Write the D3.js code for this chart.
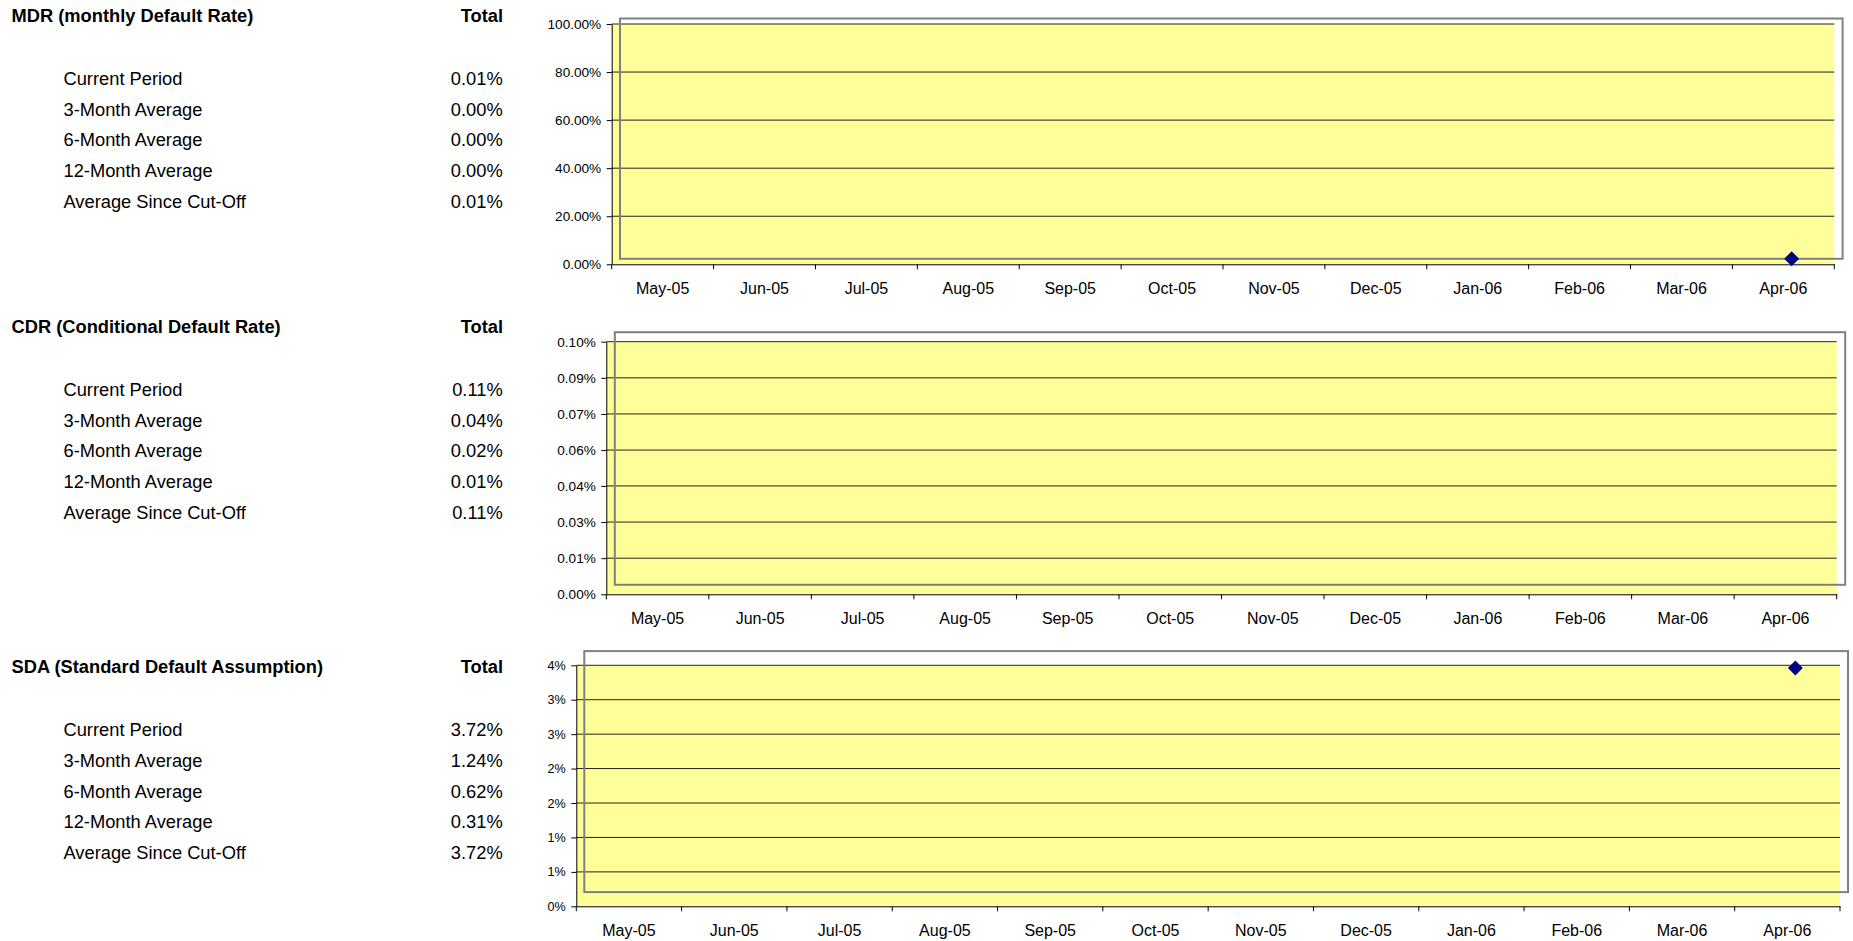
<!DOCTYPE html>
<html>
<head>
<meta charset="utf-8">
<script src="https://cdn.jsdelivr.net/npm/d3@7"></script>
<style>
  body { margin: 0; background: #fff; }
  svg { display: block; font-family: Arial, "Liberation Sans", sans-serif; }
  .block-title { font-weight: bold; font-size: 18.3px; }
  .stat-text { font-size: 18.3px; }
  .axis path, .axis line { stroke: #000; }
  .axis text { fill: #000; font-family: Arial, "Liberation Sans", sans-serif; }
</style>
</head>
<body>
<svg id="report" width="1853" height="941"></svg>
<script>
// months on the x axis
const months = ["May-05","Jun-05","Jul-05","Aug-05","Sep-05","Oct-05",
                "Nov-05","Dec-05","Jan-06","Feb-06","Mar-06","Apr-06"];

// row labels of the left tables
const statLabels = ["Current Period","3-Month Average","6-Month Average","12-Month Average","Average Since Cut-Off"];

// table values (shown with 2 decimals)
const mdrStats = [0.0001, 0.0000, 0.0000, 0.0000, 0.0001];
const cdrStats = [0.0011, 0.0004, 0.0002, 0.0001, 0.0011];
const sdaStats = [0.0372, 0.0124, 0.0062, 0.0031, 0.0372];

// chart series, only the last month has a value
const mdrSeries = [null,null,null,null,null,null,null,null,null,null,null,0.0001];
const cdrSeries = [null,null,null,null,null,null,null,null,null,null,null,0.0011];
const sdaSeries = [null,null,null,null,null,null,null,null,null,null,null,0.0372];

// y tick values
const mdrTicks = [0, 0.2, 0.4, 0.6, 0.8, 1.0];
const cdrTicks = [0, 0.000143, 0.000286, 0.000429, 0.000571, 0.000714, 0.000857, 0.001];
const sdaTicks = [0, 0.00571, 0.01143, 0.01714, 0.02286, 0.02857, 0.03429, 0.04];

const svg = d3.select("#report");
const pct2 = d3.format(".2%");

const blocks = [
  {title: "MDR (monthly Default Rate)", stats: mdrStats, series: mdrSeries, ticks: mdrTicks,
   tickFmt: d3.format(".2%"), tickFont: 13.6, top: 0,
   plot: {left: 611.7, right: 1834.3, top: 24, bottom: 264.3}, shift: {x: 8.3, y: -5.5}},
  {title: "CDR (Conditional Default Rate)", stats: cdrStats, series: cdrSeries, ticks: cdrTicks,
   tickFmt: d3.format(".2%"), tickFont: 13.6, top: 311,
   plot: {left: 606.3, right: 1836.7, top: 341.7, bottom: 594.3}, shift: {x: 8.5, y: -9.5}},
  {title: "SDA (Standard Default Assumption)", stats: sdaStats, series: sdaSeries, ticks: sdaTicks,
   tickFmt: d3.format(".0%"), tickFont: 12.6, top: 651.5,
   plot: {left: 576.3, right: 1840, top: 665.3, bottom: 906.3}, shift: {x: 8, y: -14.2}}
];

blocks.forEach(b => {
  // left table
  const table = svg.append("g").attr("transform", `translate(0,${b.top})`);
  table.append("text")
      .attr("class", "block-title")
      .attr("x", 11.5).attr("y", 15.3)
      .attr("dominant-baseline", "central")
      .text(b.title);
  table.append("text")
      .attr("class", "block-title")
      .attr("x", 503).attr("y", 15.3)
      .attr("text-anchor", "end")
      .attr("dominant-baseline", "central")
      .text("Total");

  b.stats.forEach((v, i) => {
    const yy = 78.3 + i * 30.7;
    table.append("text")
        .attr("class", "stat-text")
        .attr("x", 63.5).attr("y", yy)
        .attr("dominant-baseline", "central")
        .text(statLabels[i]);
    table.append("text")
        .attr("class", "stat-text")
        .attr("x", 502.7).attr("y", yy)
        .attr("text-anchor", "end")
        .attr("dominant-baseline", "central")
        .text(pct2(v));
  });

  // chart
  const p = b.plot;
  const yMax = b.ticks[b.ticks.length - 1];
  const xScale = d3.scaleBand().domain(months).range([p.left, p.right]).padding(0);
  const yScale = d3.scaleLinear().domain([0, yMax]).range([p.bottom, p.top]);

  const chart = svg.append("g");

  chart.append("rect")
      .attr("x", p.left).attr("y", p.top)
      .attr("width", p.right - p.left).attr("height", p.bottom - p.top)
      .attr("fill", "#FFFF99");

  // gridlines
  chart.append("g")
      .selectAll("line")
      .data(b.ticks.slice(1))
      .join("line")
      .attr("x1", p.left).attr("x2", p.right)
      .attr("y1", d => yScale(d)).attr("y2", d => yScale(d))
      .attr("stroke", "#222")
      .attr("stroke-width", 1);

  // y axis
  const leftAxis = d3.axisLeft(yScale)
      .tickValues(b.ticks)
      .tickFormat(b.tickFmt)
      .tickSize(5)
      .tickPadding(5.5)
      .tickSizeOuter(0);
  chart.append("g")
      .attr("class", "axis")
      .attr("transform", `translate(${p.left},0)`)
      .call(leftAxis)
      .call(g => g.selectAll("text").style("font-size", b.tickFont + "px"));

  // x axis: labels centred in each month, ticks on the month borders
  const bottomAxis = d3.axisBottom(xScale).tickSize(0).tickPadding(18.8).tickSizeOuter(0);
  chart.append("g")
      .attr("class", "axis")
      .attr("transform", `translate(0,${p.bottom})`)
      .call(bottomAxis)
      .call(g => g.selectAll("text").style("font-size", "16px"));

  const borders = months.map(m => xScale(m)).concat([p.right]);
  chart.append("g")
      .selectAll("line")
      .data(borders)
      .join("line")
      .attr("x1", d => d).attr("x2", d => d)
      .attr("y1", p.bottom).attr("y2", p.bottom + 5)
      .attr("stroke", "#000");

  // shifted plot frame, the series sits inside it
  const s = b.shift;
  chart.append("rect")
      .attr("x", p.left + s.x).attr("y", p.top + s.y)
      .attr("width", p.right - p.left).attr("height", p.bottom - p.top)
      .attr("fill", "none")
      .attr("stroke", "#808080")
      .attr("stroke-width", 2);

  // values above the axis maximum are not drawn
  const points = months.map((m, i) => ({month: m, value: b.series[i]}))
                       .filter(d => d.value != null && d.value <= yMax);
  chart.append("g")
      .selectAll("path")
      .data(points)
      .join("path")
      .attr("d", d3.symbol(d3.symbolSquare, 112)())
      .attr("transform", d => `translate(${xScale(d.month) + xScale.bandwidth() / 2 + s.x},${yScale(d.value) + s.y}) rotate(45)`)
      .attr("fill", "#000080");
});
</script>
</body>
</html>
